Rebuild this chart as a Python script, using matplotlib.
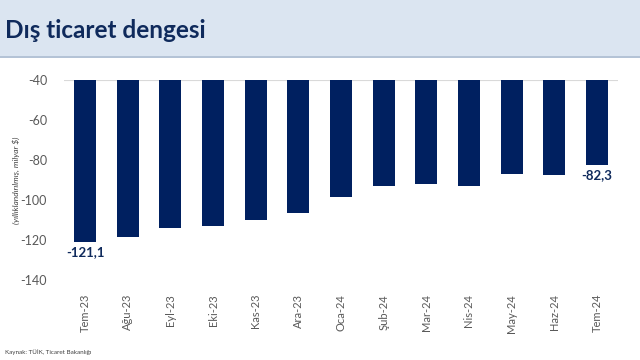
import matplotlib
matplotlib.use("Agg")
import matplotlib.pyplot as plt
from matplotlib.patches import Rectangle

# Data (yıllıklandırılmış, milyar $)
months = ["Tem-23", "Ağu-23", "Eyl-23", "Eki-23", "Kas-23", "Ara-23", "Oca-24",
          "Şub-24", "Mar-24", "Nis-24", "May-24", "Haz-24", "Tem-24"]
balance = [-121.1, -118.7, -114.2, -112.8, -110.2, -106.3, -98.3,
           -92.8, -91.8, -92.8, -87.0, -87.7, -82.3]
labelled = [0, 12]

NAVY = "#002060"
TITLE = "#0f2a5c"
GREY = "#595959"
BAND = "#dbe5f1"

plt.rcParams["font.family"] = ["Lato", "DejaVu Sans"]
plt.rcParams["axes.unicode_minus"] = False

fig = plt.figure(figsize=(6.4, 3.6), dpi=100)
fig.patch.set_facecolor("white")

# header band
fig.patches.append(Rectangle((0, 0.842), 1, 0.158, transform=fig.transFigure,
                             facecolor=BAND, edgecolor="none", zorder=0))
fig.patches.append(Rectangle((0, 0.838), 1, 0.006, transform=fig.transFigure,
                             facecolor="#b4c3d6", edgecolor="none", zorder=0))
fig.text(0.008, 0.915, "Dış ticaret dengesi", fontsize=17.5, fontweight="bold",
         color=TITLE, va="center", ha="left")

ax = fig.add_axes([0.0995, 0.2222, 0.8666, 0.5556])
x = range(len(months))
ax.bar(x, balance, width=0.52, color=NAVY, zorder=2)
ax.set_ylim(-140, -40)
ax.set_xlim(-0.5, len(months) - 0.5)
ax.set_yticks([-140, -120, -100, -80, -60, -40])
ax.set_xticks(list(x))
ax.set_xticklabels(months, rotation=90)
ax.tick_params(axis="both", length=0, colors=GREY)
ax.tick_params(axis="y", labelsize=9, pad=12)
ax.tick_params(axis="x", labelsize=8, pad=10)
for s in ax.spines.values():
    s.set_visible(False)
ax.axhline(-40, color="#d9d9d9", lw=0.8, zorder=1)

for i in labelled:
    ax.annotate(f"{balance[i]:.1f}".replace(".", ","), (i, balance[i]),
                xytext=(0, -3), textcoords="offset points", ha="center", va="top",
                fontsize=9.5, fontweight="bold", color=TITLE)

fig.text(0.025, 0.5, "(yıllıklandırılmış, milyar $)", rotation=90, fontsize=6,
         style="italic", color="#404040", ha="center", va="center")
fig.text(0.008, 0.022, "Kaynak: TÜİK, Ticaret Bakanlığı", fontsize=4.5,
         color="#404040", ha="left", va="center")

fig.savefig("out.png", dpi=100, facecolor="white")
